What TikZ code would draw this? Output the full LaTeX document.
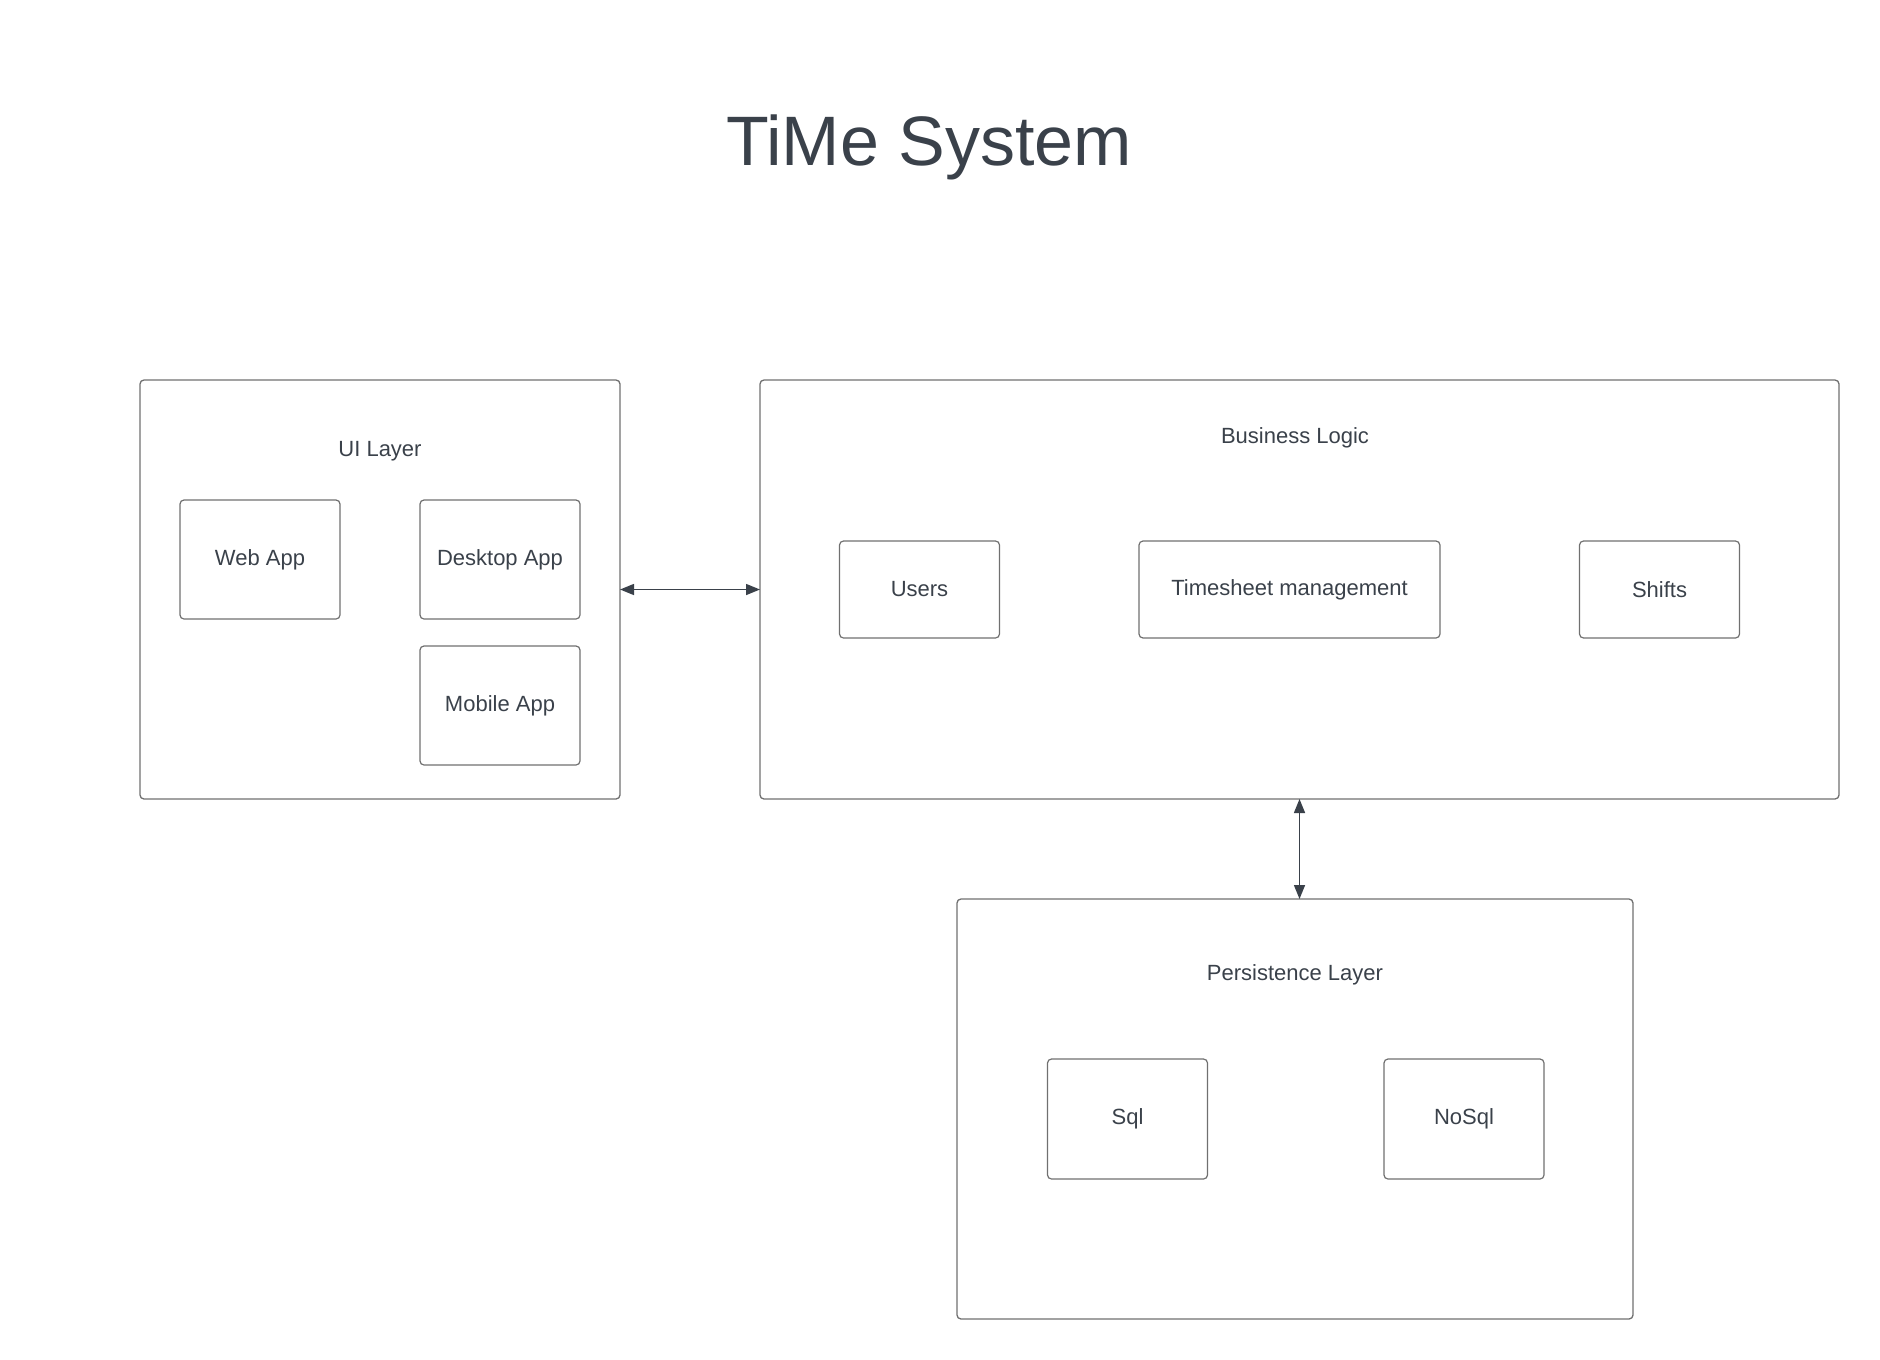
\documentclass[tikz,border=0pt]{standalone}
\usepackage{fontspec}
\setmainfont{Liberation Sans}
\usetikzlibrary{arrows.meta}
\definecolor{ink}{HTML}{3A414A}
\definecolor{rim}{HTML}{707070}
\begin{document}
\begin{tikzpicture}[x=1pt,y=-1pt]

      \useasboundingbox (0,0) rectangle (1880,1360);

      \node[text=ink, font=\fontsize{70}{80}\selectfont] (title) at (929,147) {TiMe System};

      % layers
      \begin{scope}[every node/.style={draw=rim, line width=1.3pt, rounded corners=4pt,
          inner sep=0pt, outer sep=0pt}]
        \node[minimum width=480, minimum height=419]  (ui) at (380,589.5)   {};
        \node[minimum width=1079, minimum height=419] (bl) at (1299.5,589.5) {};
        \node[minimum width=676, minimum height=420]  (pl) at (1295,1109)   {};
      \end{scope}

      \begin{scope}[every node/.style={text=ink, font=\fontsize{22}{26}\selectfont}]
        \node at (380,451)  {UI Layer};
        \node at (1295,438) {Business Logic};
        \node at (1295,975) {Persistence Layer};
      \end{scope}

      % components
      \begin{scope}[every node/.style={draw=rim, line width=1.2pt, rounded corners=4pt,
          text=ink, font=\fontsize{22}{26}\selectfont, inner sep=0pt, outer sep=0pt,
          minimum width=160, minimum height=119}]
        \node (web)    at (260,559.5)  {Web App};
        \node (desk)   at (500,559.5)  {Desktop App};
        \node (mob)    at (500,705.5)  {Mobile App};
        \node[minimum height=97] (users)  at (919.5,589.5) {Users};
        \node[minimum height=97, minimum width=301] (ts) at (1289.5,589.5) {Timesheet management};
        \node[minimum height=97] (shifts) at (1659.5,589.5) {Shifts};
        \node[minimum height=120] (sql)   at (1127.5,1119) {Sql};
        \node[minimum height=120] (nosql) at (1464,1119)   {NoSql};
      \end{scope}

      \begin{scope}[every path/.style={draw=ink, line width=1.5pt,
          {Triangle[length=14pt,width=11pt]}-{Triangle[length=14pt,width=11pt]}}]
        \path (ui.east) -- (bl.west);
        \path (bl.south) -- (bl.south |- pl.north);
      \end{scope}

    \end{tikzpicture}
\end{document}
